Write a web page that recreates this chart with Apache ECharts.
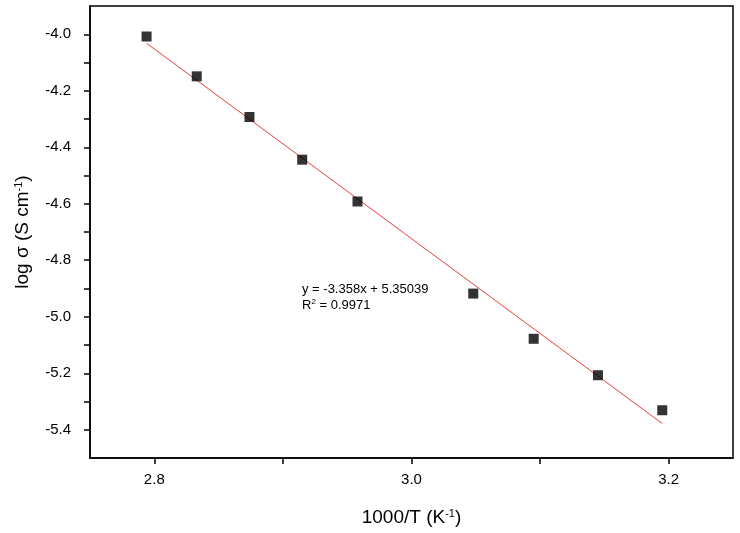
<!DOCTYPE html>
<html>
<head>
<meta charset="utf-8">
<script src="https://cdn.jsdelivr.net/npm/echarts@6/dist/echarts.min.js"></script>
<style>html,body{margin:0;padding:0;background:#fff;}#c{width:740px;height:533px;}</style>
</head>
<body>
<div id="c"></div>
<script>
// data
var xValues = [2.794, 2.833, 2.874, 2.915, 2.958, 3.048, 3.095, 3.145, 3.195];
var yValues = [-4.008, -4.149, -4.293, -4.444, -4.592, -4.918, -5.078, -5.207, -5.331];
var fitX = [2.794, 3.195];
var fitY = [-4.032, -5.378];
var xTicks = [2.8, 2.9, 3.0, 3.1, 3.2];
var xTickLabels = [2.8, 3.0, 3.2];
var yTicks = [-5.4, -5.3, -5.2, -5.1, -5.0, -4.9, -4.8, -4.7, -4.6, -4.5, -4.4, -4.3, -4.2, -4.1, -4.0];
var yTickLabels = [-5.4, -5.2, -5.0, -4.8, -4.6, -4.4, -4.2, -4.0];
var eqLine1 = 'y = -3.358x + 5.35039';
var eqLine2 = '0.9971';

var chart = echarts.init(document.getElementById('c'), null, {renderer: 'canvas'});
var font = 'Liberation Sans, Arial, sans-serif';
var option = {
  animation: false,
  backgroundColor: '#fff',
  grid: {left: 90, right: 7, top: 6, bottom: 75, show: true, borderColor: '#000', borderWidth: 1.5, backgroundColor: 'transparent'},
  xAxis: {
    type: 'value', min: 2.75, max: 3.25,
    axisLine: {show: true, lineStyle: {color: '#000', width: 1.5}},
    axisTick: {show: true, length: 6, customValues: xTicks, lineStyle: {color: '#000', width: 1.5}},
    axisLabel: {customValues: xTickLabels, formatter: function (v) { return v.toFixed(1); }, color: '#000', fontSize: 15, fontFamily: font, margin: 14},
    splitLine: {show: false},
    name: '{a|1000/T (K}{s|-1}{a|)}',
    nameLocation: 'middle', nameGap: 50,
    nameTextStyle: {rich: {a: {fontSize: 19, fontFamily: font, color: '#000'}, s: {fontSize: 11, fontFamily: font, color: '#000', verticalAlign: 'top', padding: [0, 0, 8, 0]}}}
  },
  yAxis: {
    type: 'value', min: -5.5, max: -3.9,
    axisLine: {show: true, lineStyle: {color: '#000', width: 1.5}},
    axisTick: {show: true, length: 6, customValues: yTicks, lineStyle: {color: '#000', width: 1.5}},
    axisLabel: {customValues: yTickLabels, formatter: function (v) { return v.toFixed(1); }, color: '#000', fontSize: 15, fontFamily: font, margin: 19},
    splitLine: {show: false},
    name: '{a|log σ (S cm}{s|-1}{a|)}',
    nameLocation: 'middle', nameGap: 58, nameRotate: 90,
    nameTextStyle: {rich: {a: {fontSize: 19, fontFamily: font, color: '#000'}, s: {fontSize: 11, fontFamily: font, color: '#000', verticalAlign: 'top', padding: [0, 0, 8, 0]}}}
  },
  series: [
    {
      type: 'line', data: fitX.map(function (x, i) { return [x, fitY[i]]; }),
      showSymbol: false, symbol: 'none', lineStyle: {color: '#e8403a', width: 1}, z: 2
    },
    {
      type: 'scatter', data: xValues.map(function (x, i) { return [x, yValues[i]]; }),
      symbol: 'rect', symbolSize: 10, itemStyle: {color: '#000'}, z: 3
    }
  ],
  graphic: [
    {
      type: 'text', left: 302, top: 283,
      style: {
        text: '{t|' + eqLine1 + '}\n{t|R}{s|2}{t| = ' + eqLine2 + '}',
        rich: {
          t: {fontSize: 13, fontFamily: font, fill: '#000', lineHeight: 16},
          s: {fontSize: 8, fontFamily: font, fill: '#000', verticalAlign: 'top', lineHeight: 16, padding: [0, 0, 6, 0]}
        }
      }
    }
  ]
};
chart.setOption(option);
</script>
</body>
</html>
